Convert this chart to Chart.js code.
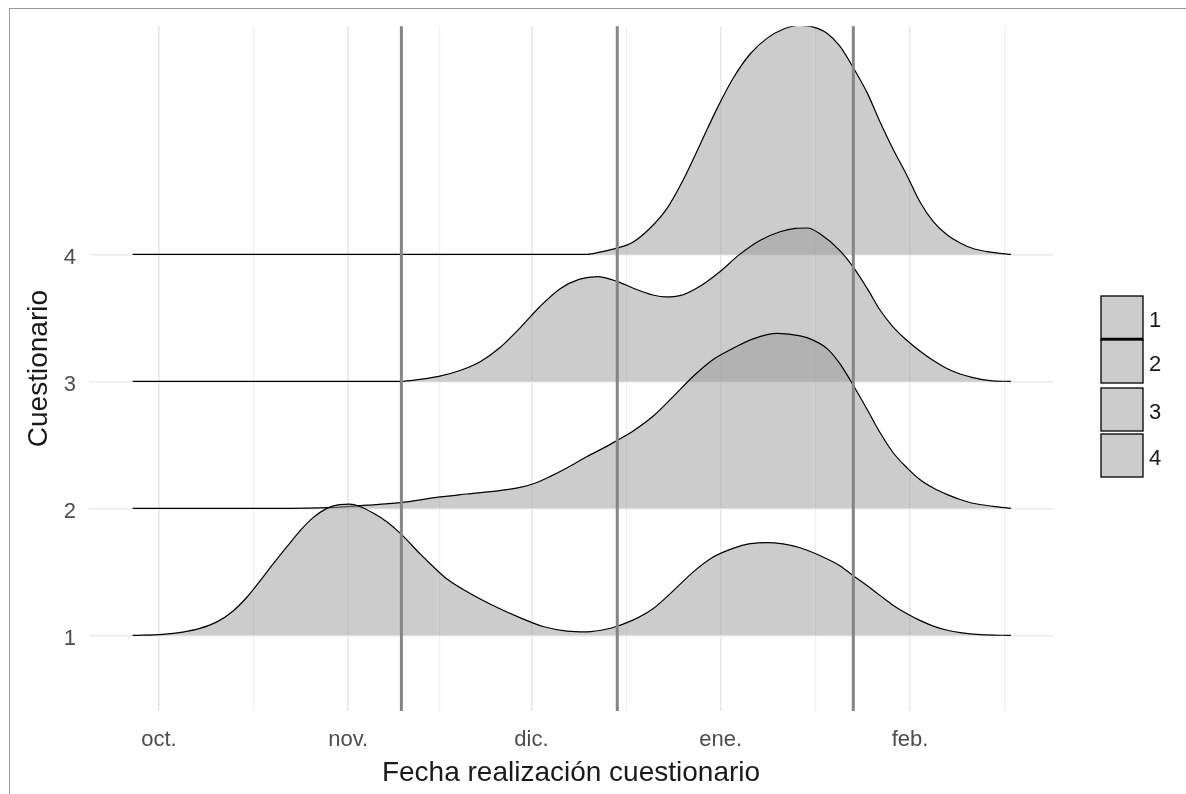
<!DOCTYPE html>
<html>
<head>
<meta charset="utf-8">
<title>Cuestionarios</title>
<script src="https://cdn.jsdelivr.net/npm/chart.js@4.4.0/dist/chart.umd.min.js"></script>
<style>
  html, body { margin: 0; padding: 0; background: #fff; }
  canvas { position: absolute; left: 0; top: 0; }
  #marco { position: absolute; left: 9px; top: 8px; right: 0; bottom: 0;
           border-left: 1px solid #9a9a9a; border-top: 1px solid #9a9a9a; pointer-events: none; }
</style>
</head>
<body>
<canvas id="grafico" width="1186" height="794"></canvas>
<div id="marco"></div>
<script>
// eje x: dias contados desde el 1 de octubre
const mesesDias = [0, 31, 61, 92, 123];
const mesesEtiquetas = ["oct.", "nov.", "dic.", "ene.", "feb."];
const mediosMes = [15.5, 46, 76.5, 107.5, 138.5];

const cuestionarios = [1, 2, 3, 4];

// lineas verticales (fechas de corte)
const cortes = [39.7, 75.05, 113.7];

// cuestionario 1
const dias1 = [-4.3, 0.7, 3.9, 6.7, 9.5, 12.1, 14.4, 16.5, 18.7, 21.0, 23.1, 25.2, 27.5, 29.6, 31.2, 32.9, 35.0, 37.3, 39.5, 42.7, 44.5, 47.0, 50.4, 54.7, 59.1, 62.9, 66.8, 70.1, 73.4, 75.0, 77.6, 80.9, 84.2, 87.5, 90.7, 94.0, 96.8, 99.6, 102.2, 105.0, 108.3, 111.5, 113.7, 116.0, 118.1, 120.2, 122.5, 124.6, 126.8, 129.1, 131.2, 134.5, 139.5];
const dens1 = [0, 0.008, 0.026, 0.055, 0.106, 0.19, 0.30, 0.425, 0.562, 0.70, 0.823, 0.925, 1.0, 1.03, 1.033, 1.015, 0.965, 0.895, 0.805, 0.645, 0.56, 0.45, 0.345, 0.235, 0.14, 0.07, 0.034, 0.028, 0.05, 0.072, 0.12, 0.21, 0.35, 0.5, 0.615, 0.685, 0.722, 0.731, 0.72, 0.69, 0.627, 0.549, 0.47, 0.39, 0.313, 0.238, 0.17, 0.118, 0.073, 0.04, 0.021, 0.005, 0];

// cuestionario 2
const dias2 = [-4.3, 15.0, 26.4, 34.1, 39.5, 46.0, 50.4, 55.8, 59.1, 61.3, 64.0, 66.8, 70.1, 73.4, 75.0, 77.6, 80.9, 84.2, 87.5, 90.7, 94.0, 97.3, 101.3, 105.0, 107.1, 109.4, 111.5, 113.5, 116.0, 118.1, 120.2, 122.5, 124.6, 126.8, 129.1, 131.2, 133.3, 136.6, 139.5];
const dens2 = [0, 0, 0.004, 0.025, 0.045, 0.09, 0.113, 0.14, 0.165, 0.194, 0.25, 0.318, 0.408, 0.49, 0.535, 0.608, 0.725, 0.88, 1.04, 1.17, 1.26, 1.335, 1.378, 1.358, 1.325, 1.258, 1.14, 0.985, 0.776, 0.595, 0.44, 0.319, 0.227, 0.16, 0.108, 0.07, 0.04, 0.016, 0];

// cuestionario 3
const dias3 = [-4.3, 39.5, 42.7, 46.0, 49.3, 52.6, 55.8, 59.1, 62.4, 65.7, 68.9, 71.8, 75.0, 77.6, 80.9, 83.0, 85.3, 88.6, 91.9, 95.1, 98.4, 101.7, 104.2, 106.2, 108.3, 111.5, 113.7, 116.0, 118.1, 120.2, 122.5, 124.6, 126.8, 129.1, 131.2, 133.3, 136.1, 139.5];
const dens3 = [0, 0, 0.016, 0.042, 0.086, 0.155, 0.265, 0.42, 0.59, 0.73, 0.805, 0.825, 0.788, 0.735, 0.68, 0.665, 0.675, 0.75, 0.866, 1.0, 1.11, 1.178, 1.205, 1.208, 1.16, 1.03, 0.90, 0.73, 0.56, 0.43, 0.322, 0.24, 0.165, 0.1, 0.058, 0.03, 0.006, 0];

// cuestionario 4
const dias4 = [-4.3, 70.1, 72.2, 75.0, 77.6, 80.4, 83.2, 85.8, 88.6, 91.4, 94.0, 96.8, 99.6, 102.2, 104.8, 107.2, 109.4, 111.5, 113.7, 116.0, 118.1, 120.2, 122.5, 124.6, 126.8, 129.1, 131.2, 133.3, 135.6, 137.7, 139.5];
const dens4 = [0, 0, 0.018, 0.049, 0.096, 0.206, 0.363, 0.582, 0.864, 1.15, 1.385, 1.578, 1.703, 1.773, 1.803, 1.79, 1.742, 1.64, 1.47, 1.27, 1.04, 0.83, 0.62, 0.415, 0.258, 0.152, 0.09, 0.046, 0.022, 0.008, 0];

const dias = [dias1, dias2, dias3, dias4];
const densidades = [dens1, dens2, dens3, dens4];

const relleno = "rgba(153, 153, 153, 0.5)";
const fuente = "'Liberation Sans', Arial, sans-serif";

// el primer conjunto se pinta encima: la cresta 1 queda delante
const datasets = cuestionarios.map((c, i) => ({
  label: String(c),
  data: dias[i].map((d, j) => ({ x: d, y: c + densidades[i][j] })),
  borderColor: "#000",
  borderWidth: 1.2,
  backgroundColor: relleno,
  fill: { value: c },
  pointRadius: 0,
  cubicInterpolationMode: "monotone",
}));

const lineasCorte = {
  id: "lineasCorte",
  afterDatasetsDraw(chart) {
    const { ctx, chartArea, scales } = chart;
    ctx.save();
    ctx.strokeStyle = "#858585";
    ctx.lineWidth = 3;
    cortes.forEach(d => {
      const px = scales.x.getPixelForValue(d);
      ctx.beginPath();
      ctx.moveTo(px, chartArea.top);
      ctx.lineTo(px, chartArea.bottom);
      ctx.stroke();
    });
    ctx.restore();
  }
};

const leyenda = {
  id: "leyenda",
  afterDraw(chart) {
    const ctx = chart.ctx;
    const tops = [296, 340, 388, 434];
    ctx.save();
    cuestionarios.forEach((c, i) => {
      const top = tops[i];
      const alto = i === 0 ? 44 : 43;
      ctx.fillStyle = "#cccccc";
      ctx.fillRect(1101, top, 42, alto);
      ctx.strokeStyle = "#000";
      ctx.lineWidth = 1.3;
      ctx.strokeRect(1101, top, 42, alto);
      if (i === 0) {
        ctx.lineWidth = 2.6;
        ctx.beginPath();
        ctx.moveTo(1101, top + alto - 1);
        ctx.lineTo(1143, top + alto - 1);
        ctx.stroke();
      }
      ctx.fillStyle = "#1a1a1a";
      ctx.font = "22px " + fuente;
      ctx.textAlign = "left";
      ctx.textBaseline = "middle";
      ctx.fillText(String(c), 1149, top + alto / 2 + 3);
    });
    ctx.restore();
  }
};

new Chart(document.getElementById("grafico"), {
  type: "line",
  data: { datasets },
  plugins: [lineasCorte, leyenda],
  options: {
    responsive: false,
    animation: false,
    layout: { padding: { top: 23, right: 133, left: 0, bottom: 0 } },
    plugins: { legend: { display: false }, tooltip: { enabled: false } },
    scales: {
      x: {
        type: "linear",
        min: -11.45,
        max: 146.4,
        afterBuildTicks: s => {
          s.ticks = mesesDias.concat(mediosMes).sort((a, b) => a - b).map(v => ({ value: v }));
        },
        afterFit: s => { s.height = 83; },
        border: { display: false },
        grid: {
          drawTicks: false,
          color: ctx => mesesDias.includes(ctx.tick && ctx.tick.value) ? "#e8e8e8" : "#eeeeee",
          lineWidth: ctx => mesesDias.includes(ctx.tick && ctx.tick.value) ? 1.6 : 1.2,
        },
        ticks: {
          autoSkip: false,
          maxRotation: 0,
          padding: 16,
          color: "#4d4d4d",
          font: { family: fuente, size: 22 },
          callback: v => {
            const k = mesesDias.indexOf(v);
            return k >= 0 ? mesesEtiquetas[k] : "";
          }
        },
        title: {
          display: true,
          text: "Fecha realización cuestionario",
          color: "#1a1a1a",
          font: { family: fuente, size: 28 },
          padding: { top: 0, bottom: 4 }
        }
      },
      y: {
        type: "linear",
        min: 0.4043,
        max: 5.797,
        afterBuildTicks: s => { s.ticks = cuestionarios.map(v => ({ value: v })); },
        afterFit: s => { s.width = 89; },
        border: { display: false },
        grid: { drawTicks: false, color: "#ebebeb", lineWidth: 1.4 },
        ticks: {
          padding: 13,
          labelOffset: 3.8,
          color: "#4d4d4d",
          font: { family: fuente, size: 22 },
          callback: v => String(v)
        },
        title: {
          display: true,
          text: "Cuestionario",
          color: "#1a1a1a",
          font: { family: fuente, size: 28 },
          padding: { top: 22, bottom: 0 }
        }
      }
    }
  }
});
</script>
</body>
</html>
